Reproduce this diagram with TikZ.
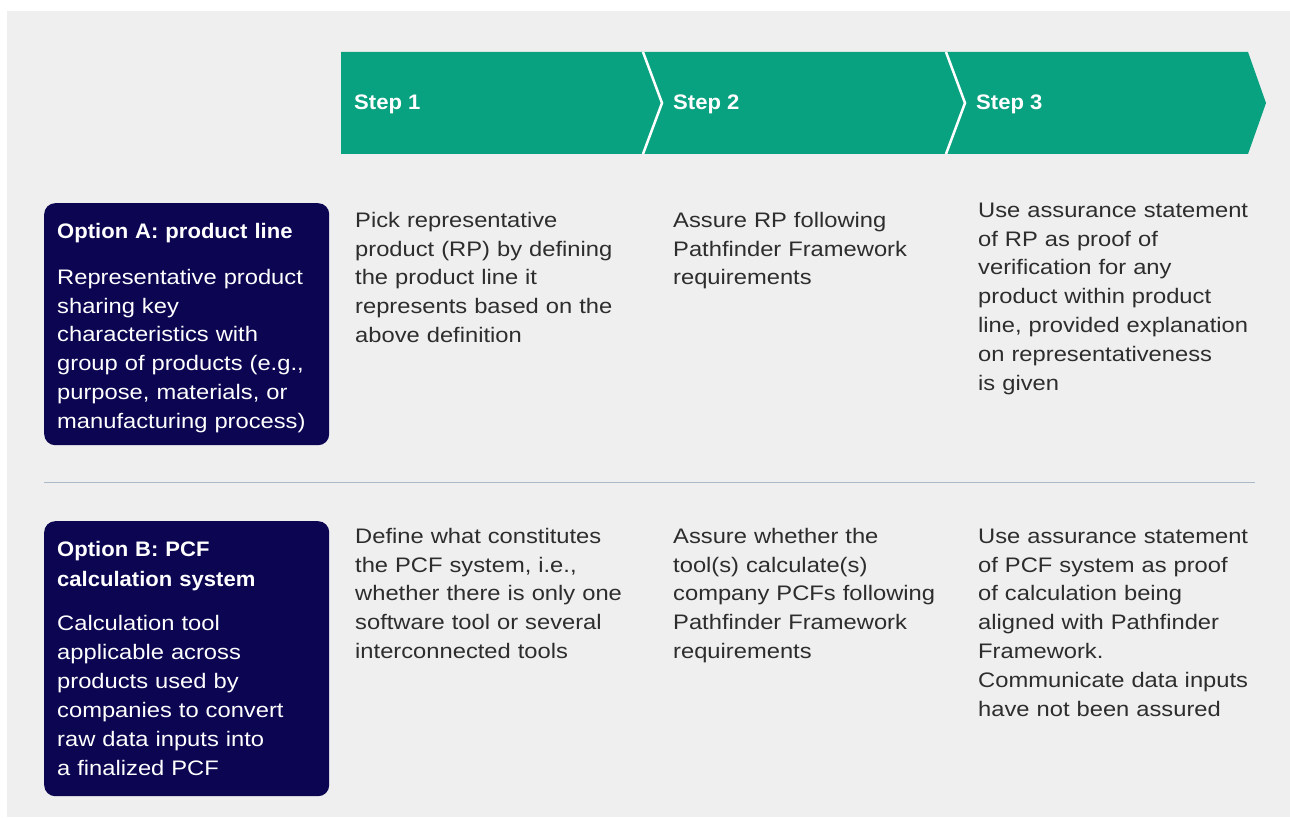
\documentclass[tikz,border=0pt]{standalone}
\usepackage{fontspec}
\setmainfont{Liberation Sans}
\newfontfamily\bodyfont[FakeStretch=1.13]{Liberation Sans}
\newfontfamily\headfont[FakeStretch=1.05]{Liberation Sans}
\definecolor{bggray}{RGB}{239,239,239}
\definecolor{stepgreen}{RGB}{9,162,128}
\definecolor{navybox}{RGB}{11,5,82}
\definecolor{sepline}{RGB}{170,186,200}
\definecolor{txtgray}{RGB}{45,45,45}
\newcommand\fs{\rule{0pt}{16pt}}
\tikzset{
  chev/.style={fill=stepgreen},
  notch/.style={draw=white, line width=2.5pt},
  steplabel/.style={anchor=base west, inner sep=0pt, text=white, font=\headfont\bfseries\fontsize{21}{29}\selectfont},
  optbox/.style={fill=navybox, rounded corners=11pt, anchor=north west, inner sep=0pt},
  bodytxt/.style={anchor=north west, inner sep=0pt, text width=320pt, align=left, text=txtgray, font=\bodyfont\fontsize{21}{28.85}\selectfont},
  boxtxt/.style={bodytxt, text=white},
  boxhead/.style={anchor=north west, inner sep=0pt, text width=270pt, align=left, text=white, font=\headfont\bfseries\fontsize{21}{29.3}\selectfont},
}
\begin{document}
\begin{tikzpicture}[x=1pt,y=-1pt]
\useasboundingbox (0,0) rectangle (1290,818);
\fill[bggray] (7,11) rectangle (1290,817);
% chevrons
\fill[chev] (341,52) -- (643,52) -- (662,103) -- (643,154) -- (341,154) -- cycle;
\fill[chev] (643,52) -- (946,52) -- (965,103) -- (946,154) -- (643,154) -- (662,103) -- cycle;
\fill[chev] (946,52) -- (1248,52) -- (1266,103) -- (1248,154) -- (946,154) -- (965,103) -- cycle;
\draw[notch] (643,52) -- (662,103) -- (643,154);
\draw[notch] (946,52) -- (965,103) -- (946,154);
\node[steplabel] (s1) at (354,110) {Step 1};
\node[steplabel] (s2) at (673,110) {Step 2};
\node[steplabel] (s3) at (976,110) {Step 3};
% option boxes
\node[optbox, minimum width=285pt, minimum height=242pt] (optA) at (44,203) {};
\node[optbox, minimum width=285pt, minimum height=275pt] (optB) at (44,521) {};
\node[boxhead] (optAhead) at (57,222) {\fs Option A: product line};
\node[boxtxt] (optAbody) at (57,268) {\fs Representative product\\ sharing key\\ characteristics with\\ group of products (e.g.,\\ purpose, materials, or\\ manufacturing process)};
\node[boxhead] (optBhead) at (57,540.7) {\fs Option B: PCF\\ calculation system};
\node[boxtxt] (optBbody) at (57,614.7) {\fs Calculation tool\\ applicable across\\ products used by\\ companies to convert\\ raw data inputs into\\ a finalized PCF};
% separator
\draw[sepline, line width=1pt] (44,482) -- (1255,482);
% row A
\node[bodytxt] (a1) at (355,211) {\fs Pick representative\\ product (RP) by defining\\ the product line it\\ represents based on the\\ above definition};
\node[bodytxt] (a2) at (673,211) {\fs Assure RP following\\ Pathfinder Framework\\ requirements};
\node[bodytxt] (a3) at (978,201) {\fs Use assurance statement\\ of RP as proof of\\ verification for any\\ product within product\\ line, provided explanation\\ on representativeness\\ is given};
% row B
\node[bodytxt] (b1) at (355,527) {\fs Define what constitutes\\ the PCF system, i.e.,\\ whether there is only one\\ software tool or several\\ interconnected tools};
\node[bodytxt] (b2) at (673,527) {\fs Assure whether the\\ tool(s) calculate(s)\\ company PCFs following\\ Pathfinder Framework\\ requirements};
\node[bodytxt] (b3) at (978,527) {\fs Use assurance statement\\ of PCF system as proof\\ of calculation being\\ aligned with Pathfinder\\ Framework.\\ Communicate data inputs\\ have not been assured};
\end{tikzpicture}
\end{document}
